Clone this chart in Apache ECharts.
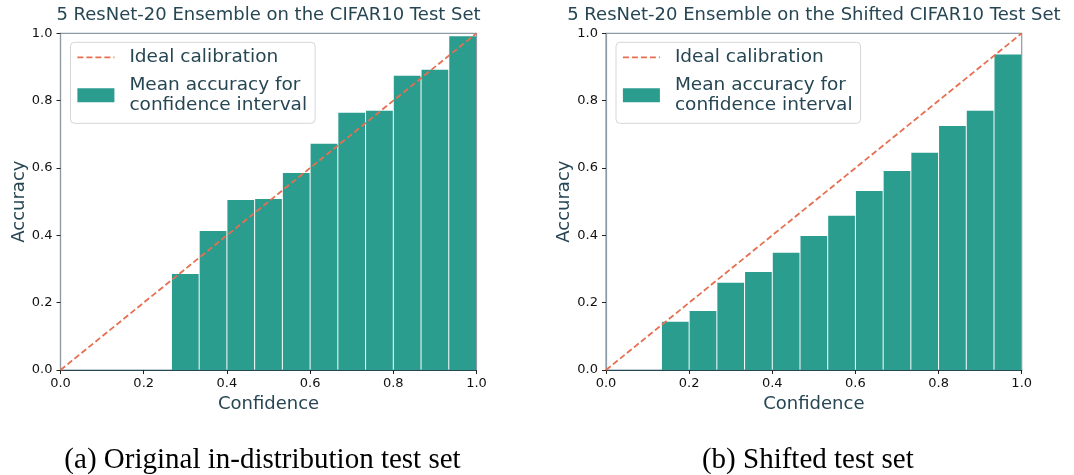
<!DOCTYPE html>
<html>
<head>
<meta charset="utf-8">
<script src="https://cdn.jsdelivr.net/npm/echarts@6/dist/echarts.min.js"></script>
<style>
  html, body { margin: 0; padding: 0; background: #ffffff; }
  #chart { width: 1074px; height: 475px; }
</style>
</head>
<body>
<div id="chart"></div>
<script>
// Reliability diagrams: 15 equal-width confidence bins on [0, 1]
const NUM_BINS = 15;

// Mean accuracy per confidence bin (null = empty bin)
const accuracyOriginal = [null, null, null, null, 0.285, 0.413, 0.505, 0.508, 0.585, 0.672, 0.764, 0.770, 0.874, 0.892, 0.991];
const accuracyShifted  = [null, null, 0.143, 0.175, 0.259, 0.291, 0.348, 0.398, 0.458, 0.532, 0.591, 0.645, 0.725, 0.770, 0.937];

// Perfect calibration diagonal
const idealLine = [[0, 0], [1, 1]];

const panelTitles = [
  '5 ResNet-20 Ensemble on the CIFAR10 Test Set',
  '5 ResNet-20 Ensemble on the Shifted CIFAR10 Test Set'
];
const captions = ['(a) Original in-distribution test set', '(b) Shifted test set'];
const NAME_IDEAL = 'Ideal calibration';
const NAME_BARS = 'Mean accuracy for confidence interval';

const TEAL = '#2a9d8f';
const CORAL = '#e76f51';
const INK = '#264653';
const SPINE = '#8d9ba6';
const FONT = 'DejaVu Sans';

// [binLow, binHigh, accuracy] rows for the custom bar series
function binRows(acc) {
  const rows = [];
  acc.forEach((a, i) => {
    if (a === null) return;
    rows.push([i / NUM_BINS, (i + 1) / NUM_BINS, a]);
  });
  return rows;
}

function renderBin(params, api) {
  const lo = api.value(0), hi = api.value(1), acc = api.value(2);
  const top = api.coord([lo, acc]);
  const bottom = api.coord([hi, 0]);
  return {
    type: 'rect',
    shape: { x: top[0] + 0.5, y: top[1], width: bottom[0] - top[0] - 1, height: bottom[1] - top[1] },
    style: { fill: TEAL }
  };
}

const grids = [
  { left: 60.5, top: 33.3, width: 416, height: 336.7 },
  { left: 606, top: 33.3, width: 415.7, height: 336.7 }
];

function valueAxis(gridIndex, isX) {
  return {
    type: 'value', gridIndex, min: 0, max: 1, interval: 0.2,
    splitLine: { show: false },
    axisLine: { show: true, onZero: false, lineStyle: { color: isX ? INK : SPINE, width: 1.2 } },
    axisTick: { show: true, inside: false, length: 4, lineStyle: { color: '#222', width: 1 } },
    axisLabel: {
      color: '#111', fontFamily: FONT, fontSize: 13, margin: isX ? 7 : 8,
      formatter: v => v.toFixed(1),
      showMinLabel: true, showMaxLabel: true
    },
    name: isX ? 'Confidence' : 'Accuracy',
    nameLocation: 'middle',
    nameGap: isX ? 25 : 31,
    nameTextStyle: { color: INK, fontFamily: FONT, fontSize: 18 },
    z: 3
  };
}

const legends = grids.map(g => ({
  left: g.left + 10, top: 42.3,
  orient: 'vertical',
  data: [
    { name: NAME_IDEAL, itemStyle: { opacity: 0 } },
    { name: NAME_BARS, icon: 'rect' }
  ],
  formatter: name => name === NAME_BARS ? 'Mean accuracy for\nconfidence interval' : name,
  itemWidth: 37, itemHeight: 14, itemGap: 8,
  padding: [5, 8, 8, 6],
  borderColor: '#d6d6d6', borderWidth: 1, borderRadius: 4,
  backgroundColor: 'rgba(255,255,255,0.85)',
  textStyle: { color: INK, fontFamily: FONT, fontSize: 18.5, lineHeight: 20, padding: [0, 0, 0, 10] },
  lineStyle: { width: 1.8 },
  selectedMode: false
}));

const series = [];
[accuracyOriginal, accuracyShifted].forEach((acc, k) => {
  series.push({
    name: NAME_BARS, type: 'custom', xAxisIndex: k, yAxisIndex: k,
    renderItem: renderBin,
    encode: { x: [0, 1], y: 2 },
    itemStyle: { color: TEAL },
    data: binRows(acc), z: 2, silent: true
  });
  series.push({
    name: NAME_IDEAL, type: 'line', xAxisIndex: k, yAxisIndex: k,
    data: idealLine, symbol: 'none', z: 4, silent: true,
    lineStyle: { color: CORAL, width: 1.8, type: [6, 3] },
    itemStyle: { color: CORAL }
  });
});

const graphic = [];
grids.forEach((g, k) => {
  graphic.push({
    type: 'text', x: g.left + g.width / 2, y: 15,
    style: { text: panelTitles[k], fill: INK, font: '18px "' + FONT + '"', align: 'center', verticalAlign: 'middle' }
  });
  graphic.push({
    type: 'text', x: g.left + g.width / 2 - 6, y: 460,
    style: { text: captions[k], fill: '#000', font: '29px "Liberation Serif"', align: 'center', verticalAlign: 'middle' }
  });
});

const chart = echarts.init(document.getElementById('chart'), null, { renderer: 'canvas' });
chart.setOption({
  animation: false,
  backgroundColor: '#ffffff',
  grid: grids.map(g => Object.assign({ show: true, borderColor: SPINE, borderWidth: 1.2, containLabel: false }, g)),
  xAxis: [valueAxis(0, true), valueAxis(1, true)],
  yAxis: [valueAxis(0, false), valueAxis(1, false)],
  legend: legends,
  series,
  graphic
});
</script>
</body>
</html>
